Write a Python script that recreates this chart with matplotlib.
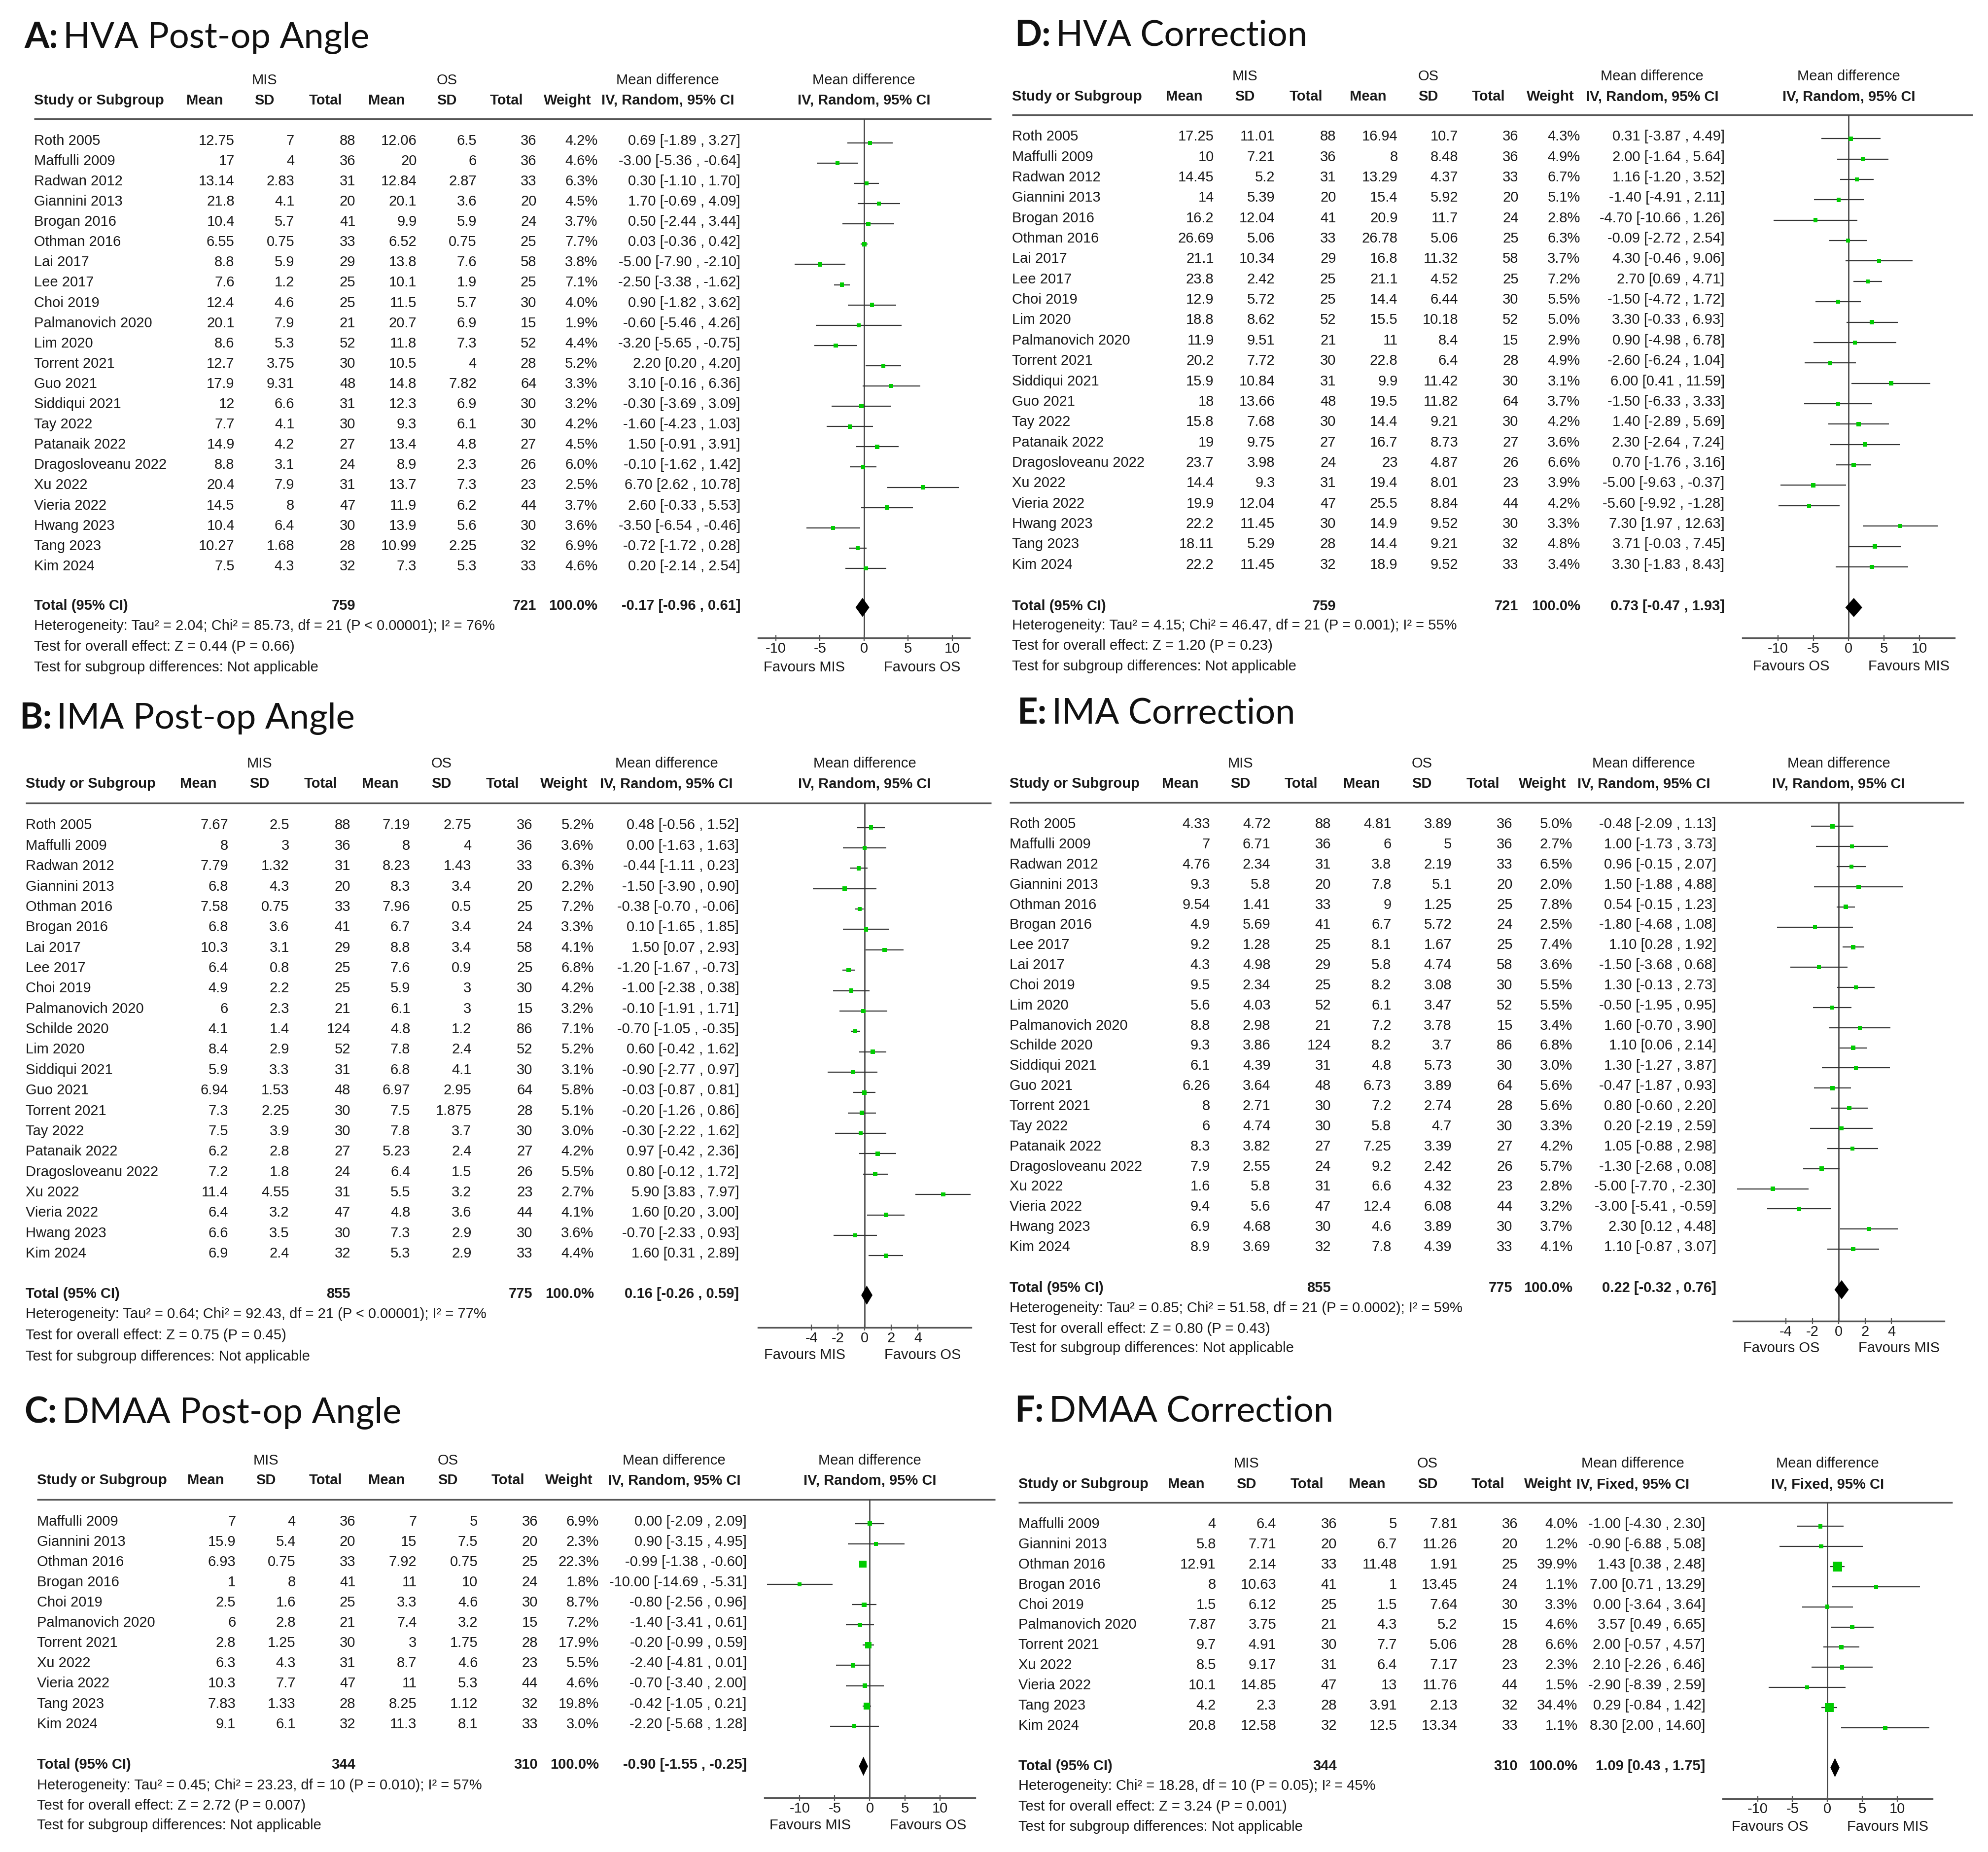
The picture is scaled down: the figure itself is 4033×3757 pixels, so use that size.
import matplotlib
matplotlib.use('Agg')
import matplotlib.pyplot as plt
import numpy as np

plt.rcParams['font.family'] = 'Liberation Sans'
plt.rcParams['axes.unicode_minus'] = False

# ---------------- A: HVA post-op angle ----------------
a_study = ['Roth 2005', 'Maffulli 2009', 'Radwan 2012', 'Giannini 2013', 'Brogan 2016', 'Othman 2016',
           'Lai 2017', 'Lee 2017', 'Choi 2019', 'Palmanovich 2020', 'Lim 2020', 'Torrent 2021', 'Guo 2021',
           'Siddiqui 2021', 'Tay 2022', 'Patanaik 2022', 'Dragosloveanu 2022', 'Xu 2022', 'Vieria 2022',
           'Hwang 2023', 'Tang 2023', 'Kim 2024']
a_mis_mean = [12.75, 17, 13.14, 21.8, 10.4, 6.55, 8.8, 7.6, 12.4, 20.1, 8.6, 12.7, 17.9, 12, 7.7, 14.9, 8.8, 20.4, 14.5, 10.4, 10.27, 7.5]
a_mis_sd = [7, 4, 2.83, 4.1, 5.7, 0.75, 5.9, 1.2, 4.6, 7.9, 5.3, 3.75, 9.31, 6.6, 4.1, 4.2, 3.1, 7.9, 8, 6.4, 1.68, 4.3]
a_mis_n = [88, 36, 31, 20, 41, 33, 29, 25, 25, 21, 52, 30, 48, 31, 30, 27, 24, 31, 47, 30, 28, 32]
a_os_mean = [12.06, 20, 12.84, 20.1, 9.9, 6.52, 13.8, 10.1, 11.5, 20.7, 11.8, 10.5, 14.8, 12.3, 9.3, 13.4, 8.9, 13.7, 11.9, 13.9, 10.99, 7.3]
a_os_sd = [6.5, 6, 2.87, 3.6, 5.9, 0.75, 7.6, 1.9, 5.7, 6.9, 7.3, 4, 7.82, 6.9, 6.1, 4.8, 2.3, 7.3, 6.2, 5.6, 2.25, 5.3]
a_os_n = [36, 36, 33, 20, 24, 25, 58, 25, 30, 15, 52, 28, 64, 30, 30, 27, 26, 23, 44, 30, 32, 33]
a_weight = [4.2, 4.6, 6.3, 4.5, 3.7, 7.7, 3.8, 7.1, 4.0, 1.9, 4.4, 5.2, 3.3, 3.2, 4.2, 4.5, 6.0, 2.5, 3.7, 3.6, 6.9, 4.6]
a_md = [0.69, -3.00, 0.30, 1.70, 0.50, 0.03, -5.00, -2.50, 0.90, -0.60, -3.20, 2.20, 3.10, -0.30, -1.60, 1.50, -0.10, 6.70, 2.60, -3.50, -0.72, 0.20]
a_lo = [-1.89, -5.36, -1.10, -0.69, -2.44, -0.36, -7.90, -3.38, -1.82, -5.46, -5.65, 0.20, -0.16, -3.69, -4.23, -0.91, -1.62, 2.62, -0.33, -6.54, -1.72, -2.14]
a_hi = [3.27, -0.64, 1.70, 4.09, 3.44, 0.42, -2.10, -1.62, 3.62, 4.26, -0.75, 4.20, 6.36, 3.09, 1.03, 3.91, 1.42, 10.78, 5.53, -0.46, 0.28, 2.54]
a_total = [759, 721, -0.17, -0.96, 0.61]
a_notes = ['Heterogeneity: Tau² = 2.04; Chi² = 85.73, df = 21 (P < 0.00001); I² = 76%',
           'Test for overall effect: Z = 0.44 (P = 0.66)']

# ---------------- B: IMA post-op angle ----------------
b_study = ['Roth 2005', 'Maffulli 2009', 'Radwan 2012', 'Giannini 2013', 'Othman 2016', 'Brogan 2016',
           'Lai 2017', 'Lee 2017', 'Choi 2019', 'Palmanovich 2020', 'Schilde 2020', 'Lim 2020', 'Siddiqui 2021',
           'Guo 2021', 'Torrent 2021', 'Tay 2022', 'Patanaik 2022', 'Dragosloveanu 2022', 'Xu 2022',
           'Vieria 2022', 'Hwang 2023', 'Kim 2024']
b_mis_mean = [7.67, 8, 7.79, 6.8, 7.58, 6.8, 10.3, 6.4, 4.9, 6, 4.1, 8.4, 5.9, 6.94, 7.3, 7.5, 6.2, 7.2, 11.4, 6.4, 6.6, 6.9]
b_mis_sd = [2.5, 3, 1.32, 4.3, 0.75, 3.6, 3.1, 0.8, 2.2, 2.3, 1.4, 2.9, 3.3, 1.53, 2.25, 3.9, 2.8, 1.8, 4.55, 3.2, 3.5, 2.4]
b_mis_n = [88, 36, 31, 20, 33, 41, 29, 25, 25, 21, 124, 52, 31, 48, 30, 30, 27, 24, 31, 47, 30, 32]
b_os_mean = [7.19, 8, 8.23, 8.3, 7.96, 6.7, 8.8, 7.6, 5.9, 6.1, 4.8, 7.8, 6.8, 6.97, 7.5, 7.8, 5.23, 6.4, 5.5, 4.8, 7.3, 5.3]
b_os_sd = [2.75, 4, 1.43, 3.4, 0.5, 3.4, 3.4, 0.9, 3, 3, 1.2, 2.4, 4.1, 2.95, 1.875, 3.7, 2.4, 1.5, 3.2, 3.6, 2.9, 2.9]
b_os_n = [36, 36, 33, 20, 25, 24, 58, 25, 30, 15, 86, 52, 30, 64, 28, 30, 27, 26, 23, 44, 30, 33]
b_weight = [5.2, 3.6, 6.3, 2.2, 7.2, 3.3, 4.1, 6.8, 4.2, 3.2, 7.1, 5.2, 3.1, 5.8, 5.1, 3.0, 4.2, 5.5, 2.7, 4.1, 3.6, 4.4]
b_md = [0.48, 0.00, -0.44, -1.50, -0.38, 0.10, 1.50, -1.20, -1.00, -0.10, -0.70, 0.60, -0.90, -0.03, -0.20, -0.30, 0.97, 0.80, 5.90, 1.60, -0.70, 1.60]
b_lo = [-0.56, -1.63, -1.11, -3.90, -0.70, -1.65, 0.07, -1.67, -2.38, -1.91, -1.05, -0.42, -2.77, -0.87, -1.26, -2.22, -0.42, -0.12, 3.83, 0.20, -2.33, 0.31]
b_hi = [1.52, 1.63, 0.23, 0.90, -0.06, 1.85, 2.93, -0.73, 0.38, 1.71, -0.35, 1.62, 0.97, 0.81, 0.86, 1.62, 2.36, 1.72, 7.97, 3.00, 0.93, 2.89]
b_total = [855, 775, 0.16, -0.26, 0.59]
b_notes = ['Heterogeneity: Tau² = 0.64; Chi² = 92.43, df = 21 (P < 0.00001); I² = 77%',
           'Test for overall effect: Z = 0.75 (P = 0.45)']

# ---------------- C: DMAA post-op angle ----------------
c_study = ['Maffulli 2009', 'Giannini 2013', 'Othman 2016', 'Brogan 2016', 'Choi 2019', 'Palmanovich 2020',
           'Torrent 2021', 'Xu 2022', 'Vieria 2022', 'Tang 2023', 'Kim 2024']
c_mis_mean = [7, 15.9, 6.93, 1, 2.5, 6, 2.8, 6.3, 10.3, 7.83, 9.1]
c_mis_sd = [4, 5.4, 0.75, 8, 1.6, 2.8, 1.25, 4.3, 7.7, 1.33, 6.1]
c_mis_n = [36, 20, 33, 41, 25, 21, 30, 31, 47, 28, 32]
c_os_mean = [7, 15, 7.92, 11, 3.3, 7.4, 3, 8.7, 11, 8.25, 11.3]
c_os_sd = [5, 7.5, 0.75, 10, 4.6, 3.2, 1.75, 4.6, 5.3, 1.12, 8.1]
c_os_n = [36, 20, 25, 24, 30, 15, 28, 23, 44, 32, 33]
c_weight = [6.9, 2.3, 22.3, 1.8, 8.7, 7.2, 17.9, 5.5, 4.6, 19.8, 3.0]
c_md = [0.00, 0.90, -0.99, -10.00, -0.80, -1.40, -0.20, -2.40, -0.70, -0.42, -2.20]
c_lo = [-2.09, -3.15, -1.38, -14.69, -2.56, -3.41, -0.99, -4.81, -3.40, -1.05, -5.68]
c_hi = [2.09, 4.95, -0.60, -5.31, 0.96, 0.61, 0.59, 0.01, 2.00, 0.21, 1.28]
c_total = [344, 310, -0.90, -1.55, -0.25]
c_notes = ['Heterogeneity: Tau² = 0.45; Chi² = 23.23, df = 10 (P = 0.010); I² = 57%',
           'Test for overall effect: Z = 2.72 (P = 0.007)']

# ---------------- D: HVA correction ----------------
d_study = ['Roth 2005', 'Maffulli 2009', 'Radwan 2012', 'Giannini 2013', 'Brogan 2016', 'Othman 2016',
           'Lai 2017', 'Lee 2017', 'Choi 2019', 'Lim 2020', 'Palmanovich 2020', 'Torrent 2021', 'Siddiqui 2021',
           'Guo 2021', 'Tay 2022', 'Patanaik 2022', 'Dragosloveanu 2022', 'Xu 2022', 'Vieria 2022',
           'Hwang 2023', 'Tang 2023', 'Kim 2024']
d_mis_mean = [17.25, 10, 14.45, 14, 16.2, 26.69, 21.1, 23.8, 12.9, 18.8, 11.9, 20.2, 15.9, 18, 15.8, 19, 23.7, 14.4, 19.9, 22.2, 18.11, 22.2]
d_mis_sd = [11.01, 7.21, 5.2, 5.39, 12.04, 5.06, 10.34, 2.42, 5.72, 8.62, 9.51, 7.72, 10.84, 13.66, 7.68, 9.75, 3.98, 9.3, 12.04, 11.45, 5.29, 11.45]
d_mis_n = [88, 36, 31, 20, 41, 33, 29, 25, 25, 52, 21, 30, 31, 48, 30, 27, 24, 31, 47, 30, 28, 32]
d_os_mean = [16.94, 8, 13.29, 15.4, 20.9, 26.78, 16.8, 21.1, 14.4, 15.5, 11, 22.8, 9.9, 19.5, 14.4, 16.7, 23, 19.4, 25.5, 14.9, 14.4, 18.9]
d_os_sd = [10.7, 8.48, 4.37, 5.92, 11.7, 5.06, 11.32, 4.52, 6.44, 10.18, 8.4, 6.4, 11.42, 11.82, 9.21, 8.73, 4.87, 8.01, 8.84, 9.52, 9.21, 9.52]
d_os_n = [36, 36, 33, 20, 24, 25, 58, 25, 30, 52, 15, 28, 30, 64, 30, 27, 26, 23, 44, 30, 32, 33]
d_weight = [4.3, 4.9, 6.7, 5.1, 2.8, 6.3, 3.7, 7.2, 5.5, 5.0, 2.9, 4.9, 3.1, 3.7, 4.2, 3.6, 6.6, 3.9, 4.2, 3.3, 4.8, 3.4]
d_md = [0.31, 2.00, 1.16, -1.40, -4.70, -0.09, 4.30, 2.70, -1.50, 3.30, 0.90, -2.60, 6.00, -1.50, 1.40, 2.30, 0.70, -5.00, -5.60, 7.30, 3.71, 3.30]
d_lo = [-3.87, -1.64, -1.20, -4.91, -10.66, -2.72, -0.46, 0.69, -4.72, -0.33, -4.98, -6.24, 0.41, -6.33, -2.89, -2.64, -1.76, -9.63, -9.92, 1.97, -0.03, -1.83]
d_hi = [4.49, 5.64, 3.52, 2.11, 1.26, 2.54, 9.06, 4.71, 1.72, 6.93, 6.78, 1.04, 11.59, 3.33, 5.69, 7.24, 3.16, -0.37, -1.28, 12.63, 7.45, 8.43]
d_total = [759, 721, 0.73, -0.47, 1.93]
d_notes = ['Heterogeneity: Tau² = 4.15; Chi² = 46.47, df = 21 (P = 0.001); I² = 55%',
           'Test for overall effect: Z = 1.20 (P = 0.23)']

# ---------------- E: IMA correction ----------------
e_study = ['Roth 2005', 'Maffulli 2009', 'Radwan 2012', 'Giannini 2013', 'Othman 2016', 'Brogan 2016',
           'Lee 2017', 'Lai 2017', 'Choi 2019', 'Lim 2020', 'Palmanovich 2020', 'Schilde 2020', 'Siddiqui 2021',
           'Guo 2021', 'Torrent 2021', 'Tay 2022', 'Patanaik 2022', 'Dragosloveanu 2022', 'Xu 2022',
           'Vieria 2022', 'Hwang 2023', 'Kim 2024']
e_mis_mean = [4.33, 7, 4.76, 9.3, 9.54, 4.9, 9.2, 4.3, 9.5, 5.6, 8.8, 9.3, 6.1, 6.26, 8, 6, 8.3, 7.9, 1.6, 9.4, 6.9, 8.9]
e_mis_sd = [4.72, 6.71, 2.34, 5.8, 1.41, 5.69, 1.28, 4.98, 2.34, 4.03, 2.98, 3.86, 4.39, 3.64, 2.71, 4.74, 3.82, 2.55, 5.8, 5.6, 4.68, 3.69]
e_mis_n = [88, 36, 31, 20, 33, 41, 25, 29, 25, 52, 21, 124, 31, 48, 30, 30, 27, 24, 31, 47, 30, 32]
e_os_mean = [4.81, 6, 3.8, 7.8, 9, 6.7, 8.1, 5.8, 8.2, 6.1, 7.2, 8.2, 4.8, 6.73, 7.2, 5.8, 7.25, 9.2, 6.6, 12.4, 4.6, 7.8]
e_os_sd = [3.89, 5, 2.19, 5.1, 1.25, 5.72, 1.67, 4.74, 3.08, 3.47, 3.78, 3.7, 5.73, 3.89, 2.74, 4.7, 3.39, 2.42, 4.32, 6.08, 3.89, 4.39]
e_os_n = [36, 36, 33, 20, 25, 24, 25, 58, 30, 52, 15, 86, 30, 64, 28, 30, 27, 26, 23, 44, 30, 33]
e_weight = [5.0, 2.7, 6.5, 2.0, 7.8, 2.5, 7.4, 3.6, 5.5, 5.5, 3.4, 6.8, 3.0, 5.6, 5.6, 3.3, 4.2, 5.7, 2.8, 3.2, 3.7, 4.1]
e_md = [-0.48, 1.00, 0.96, 1.50, 0.54, -1.80, 1.10, -1.50, 1.30, -0.50, 1.60, 1.10, 1.30, -0.47, 0.80, 0.20, 1.05, -1.30, -5.00, -3.00, 2.30, 1.10]
e_lo = [-2.09, -1.73, -0.15, -1.88, -0.15, -4.68, 0.28, -3.68, -0.13, -1.95, -0.70, 0.06, -1.27, -1.87, -0.60, -2.19, -0.88, -2.68, -7.70, -5.41, 0.12, -0.87]
e_hi = [1.13, 3.73, 2.07, 4.88, 1.23, 1.08, 1.92, 0.68, 2.73, 0.95, 3.90, 2.14, 3.87, 0.93, 2.20, 2.59, 2.98, 0.08, -2.30, -0.59, 4.48, 3.07]
e_total = [855, 775, 0.22, -0.32, 0.76]
e_notes = ['Heterogeneity: Tau² = 0.85; Chi² = 51.58, df = 21 (P = 0.0002); I² = 59%',
           'Test for overall effect: Z = 0.80 (P = 0.43)']

# ---------------- F: DMAA correction ----------------
f_study = ['Maffulli 2009', 'Giannini 2013', 'Othman 2016', 'Brogan 2016', 'Choi 2019', 'Palmanovich 2020',
           'Torrent 2021', 'Xu 2022', 'Vieria 2022', 'Tang 2023', 'Kim 2024']
f_mis_mean = [4, 5.8, 12.91, 8, 1.5, 7.87, 9.7, 8.5, 10.1, 4.2, 20.8]
f_mis_sd = [6.4, 7.71, 2.14, 10.63, 6.12, 3.75, 4.91, 9.17, 14.85, 2.3, 12.58]
f_mis_n = [36, 20, 33, 41, 25, 21, 30, 31, 47, 28, 32]
f_os_mean = [5, 6.7, 11.48, 1, 1.5, 4.3, 7.7, 6.4, 13, 3.91, 12.5]
f_os_sd = [7.81, 11.26, 1.91, 13.45, 7.64, 5.2, 5.06, 7.17, 11.76, 2.13, 13.34]
f_os_n = [36, 20, 25, 24, 30, 15, 28, 23, 44, 32, 33]
f_weight = [4.0, 1.2, 39.9, 1.1, 3.3, 4.6, 6.6, 2.3, 1.5, 34.4, 1.1]
f_md = [-1.00, -0.90, 1.43, 7.00, 0.00, 3.57, 2.00, 2.10, -2.90, 0.29, 8.30]
f_lo = [-4.30, -6.88, 0.38, 0.71, -3.64, 0.49, -0.57, -2.26, -8.39, -0.84, 2.00]
f_hi = [2.30, 5.08, 2.48, 13.29, 3.64, 6.65, 4.57, 6.46, 2.59, 1.42, 14.60]
f_total = [344, 310, 1.09, 0.43, 1.75]
f_notes = ['Heterogeneity: Chi² = 18.28, df = 10 (P = 0.05); I² = 45%',
           'Test for overall effect: Z = 3.24 (P = 0.001)']

W, H = 1560.0, 1560.0 * 3757 / 4033
FS = 21
TFS = 52
TXT = '#1a1a1a'
GREEN = '#00cc00'

fig = plt.figure(figsize=(40.33, 37.57), dpi=100)
ax0 = fig.add_axes([0, 0, 1, 1])
ax0.set_xlim(0, W)
ax0.set_ylim(H, 0)
ax0.axis('off')
renderer = fig.canvas.get_renderer()


def num(v):
    return f'{v:g}'


def draw_panel(letter, title, method, favours, study, mis_mean, mis_sd, mis_n, os_mean, os_sd, os_n,
               weight, md, lo, hi, total, notes, lay):
    # title: bold letter + regular text
    t = ax0.text(lay['tx'], lay['ty'] + 9.7, letter + ':', family='Lato', fontweight='bold',
                 fontsize=TFS, color='#111111', va='baseline')
    bb = t.get_window_extent(renderer)
    xe = ax0.transData.inverted().transform((bb.x1, bb.y0))[0]
    ax0.text(xe + 4, lay['ty'] + 9.7, title, family='Lato', fontsize=TFS, color='#111111', va='baseline')

    x0 = lay['name_x']
    cols = lay['cols']
    zero = (lay['axl'] + lay['axr']) / 2
    off = 4.0

    # header rows
    ax0.text(cols[1] - 23.5, lay['hdr1'] + off, 'MIS', fontsize=FS, color=TXT, ha='center', va='baseline')
    ax0.text(cols[4] - 23.5, lay['hdr1'] + off, 'OS', fontsize=FS, color=TXT, ha='center', va='baseline')
    ax0.text(cols[7] - 57, lay['hdr1'] + off, 'Mean difference', fontsize=FS, color=TXT, ha='center', va='baseline')
    ax0.text(zero, lay['hdr1'] + off, 'Mean difference', fontsize=FS, color=TXT, ha='center', va='baseline')
    ax0.text(x0, lay['hdr2'] + off, 'Study or Subgroup', fontsize=FS, color=TXT, fontweight='bold', va='baseline')
    for c, lab in zip(cols[:7], ['Mean', 'SD', 'Total', 'Mean', 'SD', 'Total', 'Weight']):
        ax0.text(c - 23.5, lay['hdr2'] + off, lab, fontsize=FS, color=TXT, fontweight='bold',
                 ha='center', va='baseline')
    ci_lab = f'IV, {method}, 95% CI'
    ax0.text(cols[7] - 57, lay['hdr2'] + off, ci_lab, fontsize=FS, color=TXT, fontweight='bold',
             ha='center', va='baseline')
    ax0.text(zero, lay['hdr2'] + off, ci_lab, fontsize=FS, color=TXT, fontweight='bold',
             ha='center', va='baseline')
    ax0.plot([x0, lay['rule_r']], [lay['rule'], lay['rule']], color='#555555', lw=2.4,
             solid_capstyle='butt')

    # study rows
    ys = lay['row0'] + lay['step'] * np.arange(len(study))
    for i, y in enumerate(ys):
        ax0.text(x0, y + off, study[i], fontsize=FS, color=TXT, va='baseline')
        vals = [num(mis_mean[i]), num(mis_sd[i]), str(mis_n[i]), num(os_mean[i]), num(os_sd[i]),
                str(os_n[i]), f'{weight[i]:.1f}%', f'{md[i]:.2f} [{lo[i]:.2f} , {hi[i]:.2f}]']
        for c, v in zip(cols, vals):
            ax0.text(c, y + off, v, fontsize=FS, color=TXT, ha='right', va='baseline')

    # total row
    yt = lay['total']
    ax0.text(x0, yt + off, 'Total (95% CI)', fontsize=FS, color=TXT, fontweight='bold', va='baseline')
    for c, v in [(cols[2], str(total[0])), (cols[5], str(total[1])), (cols[6], '100.0%'),
                 (cols[7], f'{total[2]:.2f} [{total[3]:.2f} , {total[4]:.2f}]')]:
        ax0.text(c, yt + off, v, fontsize=FS, color=TXT, fontweight='bold', ha='right', va='baseline')
    for y, s in zip([lay['het'], lay['overall'], lay['sub']],
                    notes + ['Test for subgroup differences: Not applicable']):
        ax0.text(x0, y + off, s, fontsize=FS, color=TXT, va='baseline')

    # forest plot axes
    fx = fig.add_axes([lay['axl'] / W, 1 - lay['axis'] / H, (lay['axr'] - lay['axl']) / W,
                       (lay['axis'] - lay['rule']) / H])
    fx.set_xlim(-lay['lim'], lay['lim'])
    fx.set_ylim(lay['axis'], lay['rule'])
    fx.patch.set_alpha(0)
    for s in ['left', 'right', 'top']:
        fx.spines[s].set_visible(False)
    fx.spines['bottom'].set_color('#555555')
    fx.spines['bottom'].set_linewidth(2.4)
    fx.set_yticks([])
    fx.set_xticks(lay['ticks'])
    fx.set_xticklabels([str(t) for t in lay['ticks']])
    fx.tick_params(axis='x', direction='inout', length=9, width=1.6, color='#555555',
                   labelcolor=TXT, labelsize=FS, pad=1)
    fx.axvline(0, color='#444444', lw=1.9, zorder=1)
    fx.hlines(ys + 2.5, lo, hi, color='#333333', lw=1.6, zorder=2)
    side = np.maximum(8.5, 3.1 * np.sqrt(np.array(weight))) * 0.72
    fx.scatter(md, ys + 2.5, s=side ** 2, marker='s', color=GREEN, linewidths=0, zorder=3)
    yd = yt + 2.0
    fx.fill([total[3], total[2], total[4], total[2]], [yd, yd - 7.5, yd, yd + 7.5],
            color='black', lw=0, zorder=3)

    ax0.text(zero - 15, lay['fav'] + off, favours[0], fontsize=FS, color=TXT, ha='right', va='baseline')
    ax0.text(zero + 15.5, lay['fav'] + off, favours[1], fontsize=FS, color=TXT, ha='left', va='baseline')


lay_a = dict(tx=19, ty=27.8, hdr1=62, hdr2=78, rule=93.2, row0=109.6, step=15.9, total=474.6, het=490.4,
             overall=506.5, sub=523, axis=500.6, fav=523, name_x=26.5,
             cols=[184, 231, 279, 327, 374, 421, 469, 581], rule_r=778, axl=595, axr=761, lim=12,
             ticks=[-10, -5, 0, 5, 10])
lay_b = dict(tx=15, ty=562, hdr1=598.2, hdr2=614.2, rule=630.1, row0=646.8, step=16.0, total=1014.3,
             het=1030.5, overall=1047, sub=1063.5, axis=1041.8, fav=1062.6, name_x=20,
             cols=[179, 227, 275, 322, 370, 418, 466, 580], rule_r=778, axl=595, axr=762, lim=8,
             ticks=[-4, -2, 0, 2, 4])
lay_c = dict(tx=19, ty=1107, hdr1=1145.4, hdr2=1160.8, rule=1176.5, row0=1193, step=15.9, total=1384,
             het=1400, overall=1416, sub=1431.3, axis=1410.7, fav=1431.3, name_x=29,
             cols=[185, 232, 279, 327, 375, 422, 470, 586], rule_r=781, axl=600, axr=765, lim=15,
             ticks=[-10, -5, 0, 5, 10])
lay_d = dict(tx=796, ty=26, hdr1=59, hdr2=75, rule=90.3, row0=106.3, step=16.0, total=474.7, het=489.9,
             overall=505.9, sub=522.1, axis=500.7, fav=522.1, name_x=794,
             cols=[952.6, 1000.5, 1048.4, 1096.8, 1144.2, 1191.6, 1240, 1353.3], rule_r=1548,
             axl=1367.5, axr=1533.8, lim=15, ticks=[-10, -5, 0, 5, 10])
lay_e = dict(tx=798, ty=558, hdr1=598.2, hdr2=614.2, rule=629.8, row0=645.9, step=15.8, total=1010,
             het=1025.8, overall=1041.8, sub=1057, axis=1036.6, fav=1057, name_x=792,
             cols=[949.6, 997, 1044.4, 1091.8, 1139.2, 1187, 1234, 1346.8], rule_r=1541,
             axl=1360, axr=1525.7, lim=8, ticks=[-4, -2, 0, 2, 4])
lay_f = dict(tx=796, ty=1105.7, hdr1=1147.7, hdr2=1163.9, rule=1178.8, row0=1195.2, step=15.8, total=1385,
             het=1400.5, overall=1416.6, sub=1432.5, axis=1411.4, fav=1432.5, name_x=799,
             cols=[954.2, 1001.5, 1049, 1096.3, 1143.7, 1191, 1238, 1338.2], rule_r=1532,
             axl=1351.8, axr=1516.1, lim=15, ticks=[-10, -5, 0, 5, 10])

draw_panel('A', 'HVA Post-op Angle', 'Random', ('Favours MIS', 'Favours OS'), a_study, a_mis_mean, a_mis_sd,
           a_mis_n, a_os_mean, a_os_sd, a_os_n, a_weight, a_md, a_lo, a_hi, a_total, a_notes, lay_a)
draw_panel('B', 'IMA Post-op Angle', 'Random', ('Favours MIS', 'Favours OS'), b_study, b_mis_mean, b_mis_sd,
           b_mis_n, b_os_mean, b_os_sd, b_os_n, b_weight, b_md, b_lo, b_hi, b_total, b_notes, lay_b)
draw_panel('C', 'DMAA Post-op Angle', 'Random', ('Favours MIS', 'Favours OS'), c_study, c_mis_mean, c_mis_sd,
           c_mis_n, c_os_mean, c_os_sd, c_os_n, c_weight, c_md, c_lo, c_hi, c_total, c_notes, lay_c)
draw_panel('D', 'HVA Correction', 'Random', ('Favours OS', 'Favours MIS'), d_study, d_mis_mean, d_mis_sd,
           d_mis_n, d_os_mean, d_os_sd, d_os_n, d_weight, d_md, d_lo, d_hi, d_total, d_notes, lay_d)
draw_panel('E', 'IMA Correction', 'Random', ('Favours OS', 'Favours MIS'), e_study, e_mis_mean, e_mis_sd,
           e_mis_n, e_os_mean, e_os_sd, e_os_n, e_weight, e_md, e_lo, e_hi, e_total, e_notes, lay_e)
draw_panel('F', 'DMAA Correction', 'Fixed', ('Favours OS', 'Favours MIS'), f_study, f_mis_mean, f_mis_sd,
           f_mis_n, f_os_mean, f_os_sd, f_os_n, f_weight, f_md, f_lo, f_hi, f_total, f_notes, lay_f)

fig.savefig('out.png', dpi=100)
